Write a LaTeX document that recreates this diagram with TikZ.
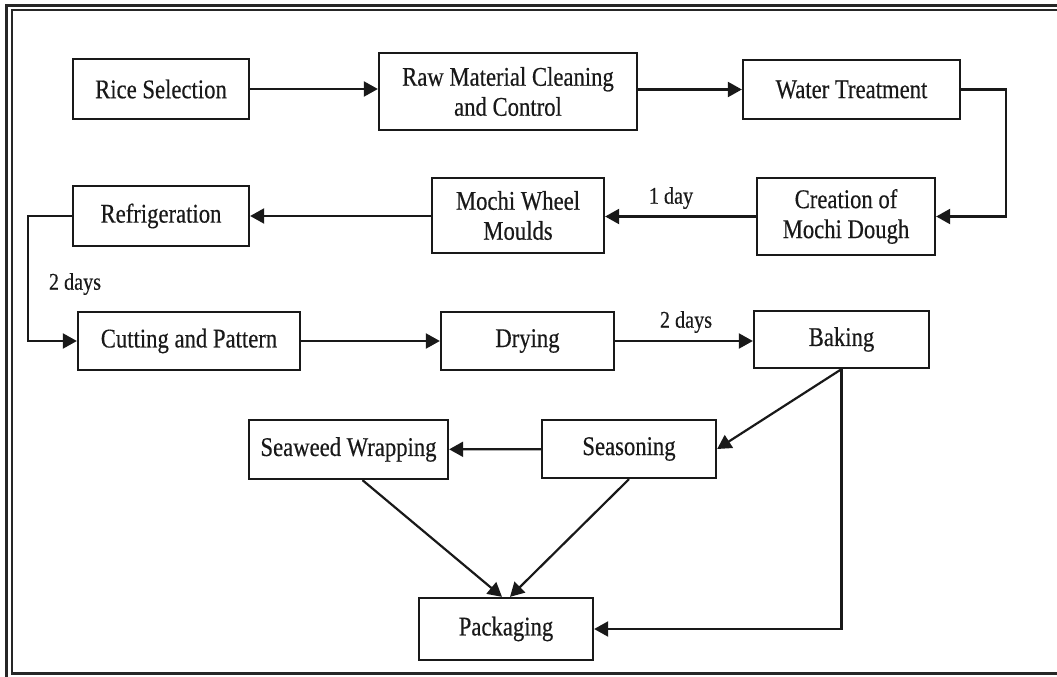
\documentclass[tikz,border=0pt]{standalone}
\usepackage{fontspec}
\setmainfont[FakeStretch=0.84,FakeBold=0.4]{Liberation Serif}
\usetikzlibrary{arrows.meta,calc}
\begin{document}
\begin{tikzpicture}[x=1pt,y=-1pt,
  box/.style={draw=black!90, line width=2.3pt, fill=white, align=center,
    inner sep=2pt, text=black!90, font=\fontsize{27}{30}\selectfont},
  flow/.style={draw=black!90, line width=2.2pt,
    -{Triangle[length=14pt,width=15pt]}},
  note/.style={font=\fontsize{24}{27}\selectfont, text=black!90, inner sep=0pt},
  frame/.style={draw=black!85}]
\useasboundingbox (0,0) rectangle (1057,677);
% outer frame (double rule on left and top)
\draw[frame, line width=3pt] (6.5,677) -- (6.5,5.5) -- (1057,5.5);
\draw[frame, line width=2pt] (1057,10) -- (12,10) -- (12,673);
\draw[frame, line width=3pt] (11,673.5) -- (1057,673.5);

% process steps
\node[box, minimum width=176pt, minimum height=60pt] (rice)   at (161,89)    {Rice Selection};
\node[box, minimum width=258pt, minimum height=77pt] (raw)    at (508,91.5)  {Raw Material Cleaning\\and Control};
\node[box, minimum width=217pt, minimum height=59pt] (water)  at (851.5,89.5){Water Treatment};
\node[box, minimum width=178pt, minimum height=77pt] (dough)  at (846,216.5) {Creation of\\Mochi Dough};
\node[box, minimum width=172pt, minimum height=75pt] (moulds) at (518,215.5) {Mochi Wheel\\Moulds};
\node[box, minimum width=176pt, minimum height=60pt] (fridge) at (161,216)   {Refrigeration};
\node[box, minimum width=222pt, minimum height=58pt] (cut)    at (189,341)   {Cutting and Pattern};
\node[box, minimum width=173pt, minimum height=58pt] (dry)    at (527.5,341) {Drying};
\node[box, minimum width=175pt, minimum height=57pt] (bake)   at (841.5,339.5){Baking};
\node[box, minimum width=199pt, minimum height=59pt] (wrap)   at (348.5,449.5){Seaweed Wrapping};
\node[box, minimum width=174pt, minimum height=58pt] (season) at (629,449)   {Seasoning};
\node[box, minimum width=174pt, minimum height=62pt] (pack)   at (506,629)   {Packaging};

% connectors
\draw[flow] (rice) -- (raw.west |- rice);
\draw[flow] (raw.east |- water) -- (water);
\draw[flow] (water.east) -- ++(45,0) |- (dough.east);
\draw[flow] (dough) -- (moulds.east |- dough);
\draw[flow] (moulds.west |- fridge) -- (fridge);
\draw[flow] (fridge.west) -- ++(-44,0) |- (cut.west);
\draw[flow] (cut) -- (dry);
\draw[flow] (dry) -- (bake.west |- dry);
\draw[flow] (bake.south) -- (season.east);
\draw[flow] (bake.south) |- (pack.east);
\draw[flow] (season) -- (wrap);
\draw[flow] ($(wrap.south)+(14,0)$) -- ($(pack.north)+(-4,0)$);
\draw[flow] (season.south) -- ($(pack.north)+(4,0)$);

% durations
\node[note] (d1) at (671,198) {1 day};
\node[note] (d2) at (75,284)  {2 days};
\node[note] (d3) at (686,322) {2 days};
\end{tikzpicture}
\end{document}
